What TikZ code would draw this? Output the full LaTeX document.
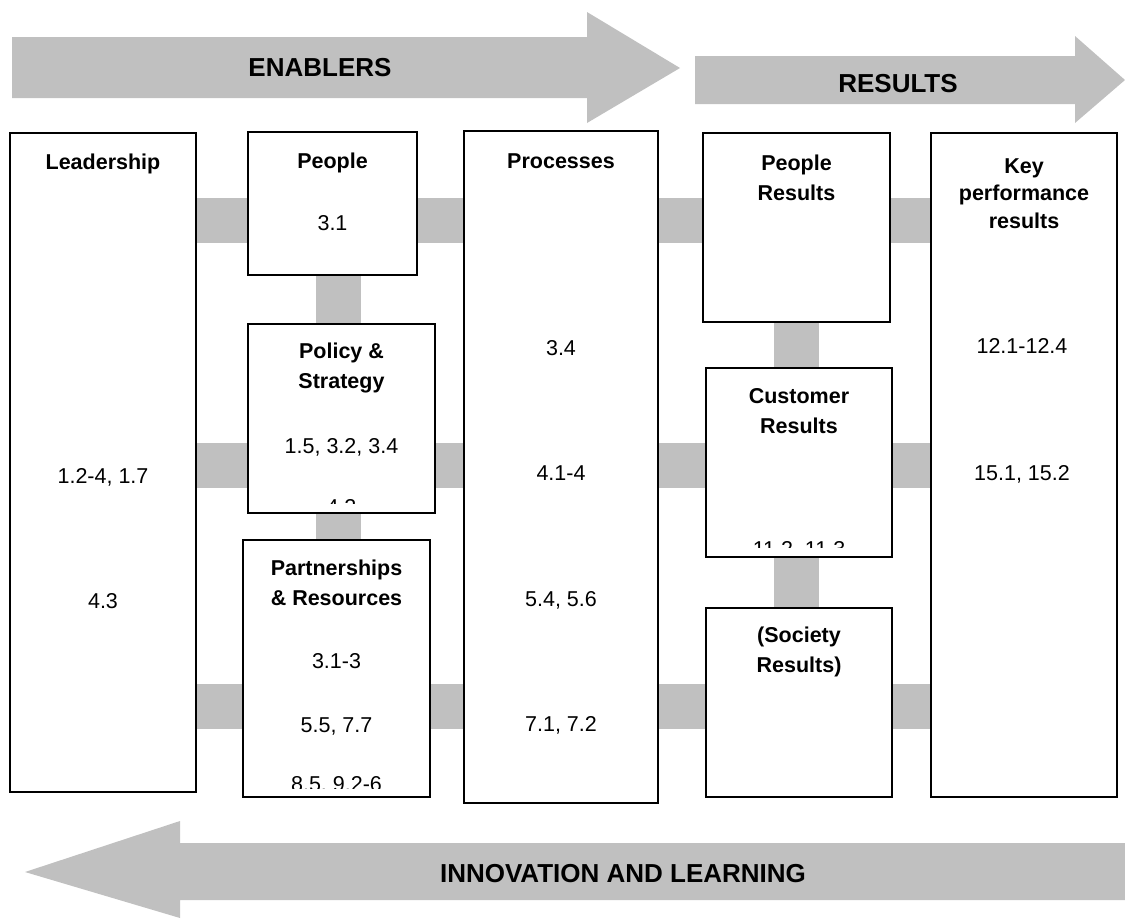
\documentclass[tikz,border=0pt]{standalone}
\usepackage{fontspec}
\setmainfont{Liberation Sans}
\definecolor{silvergray}{HTML}{C0C0C0}
\begin{document}
\begin{tikzpicture}[x=1pt,y=-1pt,
  box/.style={draw=black, line width=2pt, fill=white, inner sep=0pt, outer sep=1pt},
  lbl/.style={font=\fontsize{21.5}{29.5}\selectfont\bfseries, align=center, anchor=base, inner sep=0pt},
  num/.style={font=\fontsize{21.5}{29}\selectfont, anchor=base, inner sep=0pt},
  arrowtext/.style={font=\fontsize{26}{30}\selectfont\bfseries, anchor=base, inner sep=0pt},
  hbar/.style={draw=silvergray, line width=45pt},
]
\useasboundingbox (0,0) rectangle (1125,919);

% big arrows
\fill[silvergray] (12,37) -- (587,37) -- (587,12) -- (680,68) -- (587,123) -- (587,98) -- (12,98) -- cycle;
\node[arrowtext] (enablers) at (320,76) {ENABLERS};
\fill[silvergray] (695,56) -- (1075,56) -- (1075,36) -- (1125,80) -- (1075,123) -- (1075,104) -- (695,104) -- cycle;
\node[arrowtext] (results) at (898,92) {RESULTS};
\fill[silvergray] (1125,843) -- (180,843) -- (180,821) -- (25,872) -- (180,918) -- (180,900) -- (1125,900) -- cycle;
\node[arrowtext] (innov) at (623,882) {INNOVATION AND LEARNING};

% boxes
\node[box, minimum width=186pt, minimum height=659pt] (lead) at (103,462.5) {};
\node[box, minimum width=169pt, minimum height=143pt] (people) at (332.5,203.5) {};
\node[box, minimum width=187pt, minimum height=189pt] (policy) at (341.5,418.5) {};
\node[box, minimum width=187pt, minimum height=257pt] (partner) at (336.5,668.5) {};
\node[box, minimum width=194pt, minimum height=672pt] (proc) at (561,467) {};
\node[box, minimum width=187pt, minimum height=189pt] (pres) at (796.5,227.5) {};
\node[box, minimum width=186pt, minimum height=189pt] (cres) at (799,462.5) {};
\node[box, minimum width=186pt, minimum height=189pt] (sres) at (799,702.5) {};
\node[box, minimum width=186pt, minimum height=664pt] (kpr) at (1024,465) {};

% connector rows
\coordinate (r1) at (0,220.5);
\coordinate (r2) at (0,465);
\coordinate (r3) at (0,706.5);
\coordinate (c1) at (338.5,0);
\coordinate (c2) at (796.5,0);
\draw[hbar] (lead.east |- r1) -- (people.west |- r1);
\draw[hbar] (people.east |- r1) -- (proc.west |- r1);
\draw[hbar] (proc.east |- r1) -- (pres.west |- r1);
\draw[hbar] (pres.east |- r1) -- (kpr.west |- r1);
\draw[hbar] (lead.east |- r2) -- (policy.west |- r2);
\draw[hbar] (policy.east |- r2) -- (proc.west |- r2);
\draw[hbar] (proc.east |- r2) -- (cres.west |- r2);
\draw[hbar] (cres.east |- r2) -- (kpr.west |- r2);
\draw[hbar] (lead.east |- r3) -- (partner.west |- r3);
\draw[hbar] (partner.east |- r3) -- (proc.west |- r3);
\draw[hbar] (proc.east |- r3) -- (sres.west |- r3);
\draw[hbar] (sres.east |- r3) -- (kpr.west |- r3);
\draw[hbar] (people.south -| c1) -- (policy.north -| c1);
\draw[hbar] (policy.south -| c1) -- (partner.north -| c1);
\draw[hbar] (pres.south -| c2) -- (cres.north -| c2);
\draw[hbar] (cres.south -| c2) -- (sres.north -| c2);

% texts (multi-line labels are placed by the baseline of their last line)
\node[lbl] (leadT) at (103,169) {Leadership};
\node[num] (leadA) at (103,483) {1.2-4, 1.7};
\node[num] (leadB) at (103,608) {4.3};

\node[lbl] (peopleT) at (332.5,168) {People};
\node[num] (peopleA) at (332.5,230) {3.1};

\node[lbl] (policyT) at (341.5,388) {Policy \&\\Strategy};
\node[num] (policyA) at (341.5,453) {1.5, 3.2, 3.4};
\begin{scope}
  \clip ([xshift=2pt]policy.north west) rectangle ([yshift=11pt]policy.south east);
  \node[num] (policyB) at (341.5,514) {4.2};
\end{scope}

\node[lbl] (partnerT) at (336.5,605) {Partnerships\\\& Resources};
\node[num] (partnerA) at (336.5,668) {3.1-3};
\node[num] (partnerB) at (336.5,732) {5.5, 7.7};
\begin{scope}
  \clip ([xshift=2pt]partner.north west) rectangle ([yshift=10pt]partner.south east);
  \node[num] (partnerC) at (336.5,791) {8.5, 9.2-6};
\end{scope}

\node[lbl] (procT) at (561,168) {Processes};
\node[num] (procA) at (561,355) {3.4};
\node[num] (procB) at (561,480) {4.1-4};
\node[num] (procC) at (561,606) {5.4, 5.6};
\node[num] (procD) at (561,731) {7.1, 7.2};

\node[lbl] (presT) at (796.5,200) {People\\Results};

\node[lbl] (cresT) at (799,433) {Customer\\Results};
\begin{scope}
  \clip ([xshift=2pt]cres.north west) rectangle ([yshift=11pt]cres.south east);
  \node[num] (cresA) at (799,556) {11.2, 11.3};
\end{scope}

\node[lbl] (sresT) at (799,672) {(Society\\Results)};

\node[lbl, font=\fontsize{21.5}{27.5}\selectfont\bfseries] (kprT) at (1024,228) {Key\\performance\\results};
\node[num] (kprA) at (1022,353) {12.1-12.4};
\node[num] (kprB) at (1022,480) {15.1, 15.2};
\end{tikzpicture}
\end{document}
